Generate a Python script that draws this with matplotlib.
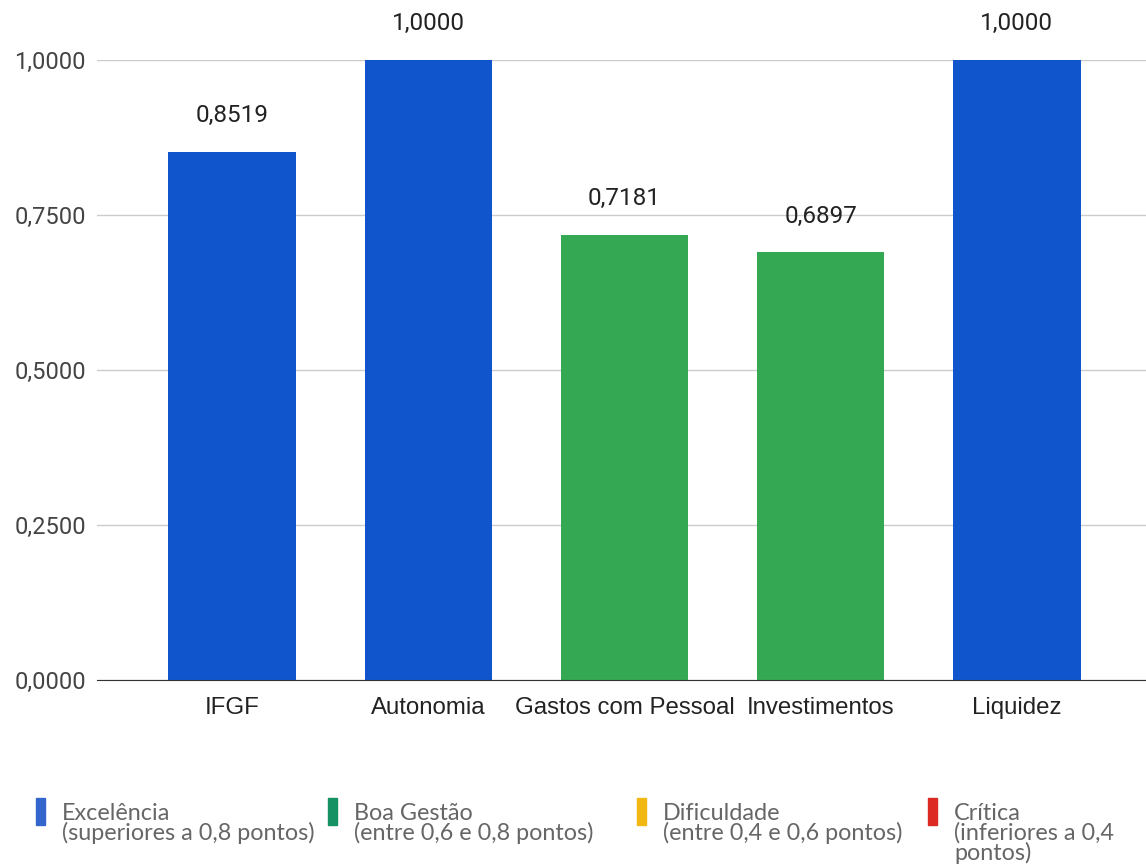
import matplotlib
matplotlib.use("Agg")
import matplotlib.pyplot as plt
from matplotlib.patches import Rectangle

# indicadores e valores
indicadores = ["IFGF", "Autonomia", "Gastos com Pessoal", "Investimentos", "Liquidez"]
valores = [0.8519, 1.0000, 0.7181, 0.6897, 1.0000]

# faixas da legenda
faixas = ["Excelência\n(superiores a 0,8 pontos)",
          "Boa Gestão\n(entre 0,6 e 0,8 pontos)",
          "Dificuldade\n(entre 0,4 e 0,6 pontos)",
          "Crítica\n(inferiores a 0,4\npontos)"]
cores_faixa = ["#3366cc", "#169164", "#f1b814", "#dc2a22"]
cores_barra = {"exc": "#1155cc", "boa": "#34a853", "dif": "#f1b814", "cri": "#dc2a22"}
yticks = [0.0, 0.25, 0.5, 0.75, 1.0]


def cor(v):
    if v >= 0.8:
        return cores_barra["exc"]
    if v >= 0.6:
        return cores_barra["boa"]
    if v >= 0.4:
        return cores_barra["dif"]
    return cores_barra["cri"]


def fmt(v):
    return ("%.4f" % v).replace(".", ",")


fig = plt.figure(figsize=(11.46, 8.65), dpi=100)
ax = fig.add_axes([97/1146, 1-680/865, 1-97/1146, (680-60)/865])

x = list(range(len(indicadores)))
ax.bar(x, valores, width=0.65, color=[cor(v) for v in valores], zorder=3)

for xi, v in zip(x, valores):
    ax.annotate(fmt(v), (xi, v), xytext=(0, 26), textcoords="offset points",
                ha="center", va="center", fontsize=17.5, family="Roboto",
                color="#222222", annotation_clip=False)

ax.set_xlim(-0.689, 4.658)
ax.set_ylim(0, 1)
ax.set_yticks(yticks)
ax.set_yticklabels([fmt(t) for t in yticks], family="Roboto", fontsize=17, color="#444444")
ax.set_xticks(x)
ax.set_xticklabels(indicadores, family="Liberation Sans", fontsize=17.3, color="#222222")
ax.tick_params(length=0)
ax.tick_params(axis="x", pad=12)
ax.tick_params(axis="y", pad=8)
for s in ["top", "right", "left"]:
    ax.spines[s].set_visible(False)
ax.spines["bottom"].set_color("#333333")
ax.spines["bottom"].set_zorder(4)
ax.grid(axis="y", color="#cccccc", linewidth=1, zorder=0)

# legenda das faixas
pos_x = [36, 328, 637, 928]
for px, txt, c in zip(pos_x, faixas, cores_faixa):
    fig.patches.append(Rectangle((px/1146, 1-825/865), 9/1146, 27/865,
                                 transform=fig.transFigure, color=c))
    fig.text((px+26)/1146, 1-803/865, txt, ha="left", va="top",
             fontsize=16.8, family="Lato", color="#666666", linespacing=0.9)

fig.savefig("out.png", dpi=100)
